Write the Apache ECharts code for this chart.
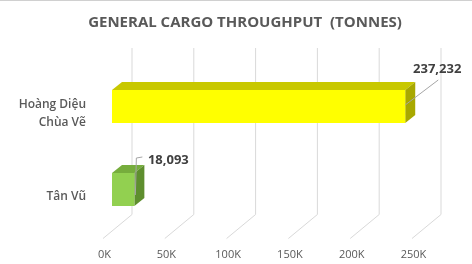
<!DOCTYPE html>
<html>
<head>
<meta charset="utf-8">
<script src="https://cdn.jsdelivr.net/npm/echarts@6/dist/echarts.min.js"></script>
<style>
  html, body { margin: 0; padding: 0; background: #fff; }
  #chart { width: 472px; height: 264px; }
</style>
</head>
<body>
<div id="chart"></div>
<script>
// data
const categories = ['Tân Vũ', 'Hoàng Diệu\nChùa Vẽ'];
const throughput = [18093, 237232];
const tickValues = [0, 50000, 100000, 150000, 200000, 250000];

// styling
const faceColors = [
  { front: '#92D050', top: '#76AD3C', side: '#5E8E2E' },
  { front: '#FFFF00', top: '#C8C800', side: '#A8A800' }
];
const labelOffsets = [[34, -13], [32, -21]]; // from front-right-top corner of the bar
const DEPTH_X = 10, DEPTH_Y = -8, BAR_H = 33, SHIFT_Y = -7.5;
const textColor = '#595959';

const chart = echarts.init(document.getElementById('chart'));

function gridItem(params, api) {
  const cs = params.coordSys;
  const x = api.coord([api.value(0), 0])[0];
  const top = 48;
  const bottom = cs.y + cs.height;
  return {
    type: 'polyline',
    shape: { points: [[x + 20, top], [x + 20, bottom - 24], [x - 9, bottom]] },
    style: { stroke: '#D9D9D9', lineWidth: 1, fill: null }
  };
}

function barItem(params, api) {
  const idx = params.dataIndex;
  const cat = api.value(1);
  const p0 = api.coord([0, cat]);
  const p1 = api.coord([api.value(0), cat]);
  const x0 = p0[0], x1 = p1[0];
  const yc = p0[1] + SHIFT_Y;
  const yt = yc - BAR_H / 2, yb = yc + BAR_H / 2;
  const c = faceColors[idx];
  const off = labelOffsets[idx];
  const lx = x1 + off[0], ly = yt + off[1];
  const children = [
    { type: 'polygon', shape: { points: [[x0, yt], [x1, yt], [x1 + DEPTH_X, yt + DEPTH_Y], [x0 + DEPTH_X, yt + DEPTH_Y]] }, style: { fill: c.top } },
    { type: 'polygon', shape: { points: [[x1, yt], [x1 + DEPTH_X, yt + DEPTH_Y], [x1 + DEPTH_X, yb + DEPTH_Y], [x1, yb]] }, style: { fill: c.side } },
    { type: 'rect', shape: { x: x0, y: yt, width: x1 - x0, height: BAR_H }, style: { fill: c.front } }
  ];
  // leader line
  if (idx === 1) {
    children.push({ type: 'polyline', shape: { points: [[x1, yt + 15], [lx + 1, ly + 11]] }, style: { stroke: '#A6A6A6', lineWidth: 1, fill: null } });
  } else {
    children.push({ type: 'polyline', shape: { points: [[x1 + 1, yt + 22], [x1 + 2, ly - 2], [x1 + 8, ly - 3]] }, style: { stroke: '#A6A6A6', lineWidth: 1, fill: null } });
  }
  children.push({
    type: 'text',
    style: {
      x: lx, y: ly,
      text: echarts.format.addCommas(api.value(0)),
      fill: '#404040',
      font: 'bold 13px "Open Sans", sans-serif',
      align: 'center', verticalAlign: 'middle'
    }
  });
  return { type: 'group', children: children };
}

const option = {
  animation: false,
  backgroundColor: '#fff',
  title: {
    text: 'GENERAL CARGO THROUGHPUT  (TONNES)',
    left: 240, top: 10, textAlign: 'center',
    textStyle: { color: textColor, fontFamily: 'Open Sans', fontWeight: 'bold', fontSize: 15 }
  },
  graphic: [{
    type: 'line', shape: { x1: 0, y1: 0.5, x2: 472, y2: 0.5 },
    style: { stroke: '#D0D0D0', lineWidth: 1 }
  }],
  grid: { left: 112, right: 51, top: 72.5, bottom: 25.5 },
  xAxis: {
    type: 'value', min: 0, max: 250000, interval: 50000,
    splitLine: { show: false }, axisLine: { show: false }, axisTick: { show: false },
    axisLabel: {
      formatter: v => (v / 1000) + 'K',
      color: textColor, fontFamily: 'Open Sans', fontSize: 11, margin: 11,
      padding: [0, 15, 0, 0]
    }
  },
  yAxis: {
    type: 'category', data: categories,
    axisLine: { show: false }, axisTick: { show: false }, splitLine: { show: false },
    axisLabel: {
      color: textColor, fontFamily: 'Open Sans', fontSize: 12, fontWeight: 600, margin: 26,
      lineHeight: 18, align: 'right'
    }
  },
  series: [
    {
      type: 'custom', z: 1, silent: true, clip: false,
      renderItem: gridItem,
      data: tickValues.map(v => [v, 0])
    },
    {
      type: 'custom', z: 2, silent: true, clip: false,
      renderItem: barItem,
      data: throughput.map((v, i) => [v, i])
    }
  ]
};
chart.setOption(option);
</script>
</body>
</html>
